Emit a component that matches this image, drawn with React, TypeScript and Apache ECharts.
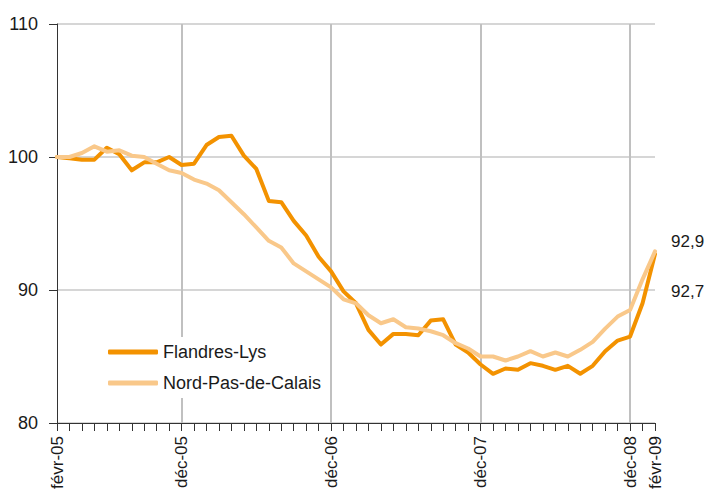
import React, { useEffect, useRef } from "react";
import * as echarts from "echarts";

const months = [
  "févr-05", "mars-05", "avr-05", "mai-05", "juin-05", "juil-05", "août-05", "sept-05", "oct-05", "nov-05", "déc-05",
  "janv-06", "févr-06", "mars-06", "avr-06", "mai-06", "juin-06", "juil-06", "août-06", "sept-06", "oct-06", "nov-06", "déc-06",
  "janv-07", "févr-07", "mars-07", "avr-07", "mai-07", "juin-07", "juil-07", "août-07", "sept-07", "oct-07", "nov-07", "déc-07",
  "janv-08", "févr-08", "mars-08", "avr-08", "mai-08", "juin-08", "juil-08", "août-08", "sept-08", "oct-08", "nov-08", "déc-08",
  "janv-09", "févr-09",
];

const shownLabels = ["févr-05", "déc-05", "déc-06", "déc-07", "déc-08", "févr-09"];
const gridMonths = ["déc-05", "déc-06", "déc-07", "déc-08"];

const flandresLys = [
  100.0, 99.9, 99.8, 99.8, 100.7, 100.2, 99.0, 99.6, 99.6, 100.0, 99.4,
  99.5, 100.9, 101.5, 101.6, 100.1, 99.1, 96.7, 96.6, 95.2, 94.1, 92.5, 91.4,
  89.9, 89.0, 87.0, 85.9, 86.7, 86.7, 86.6, 87.7, 87.8, 85.9, 85.3, 84.4,
  83.7, 84.1, 84.0, 84.5, 84.3, 84.0, 84.3, 83.7, 84.3, 85.4, 86.2, 86.5,
  89.0, 92.7,
];

const nordPasDeCalais = [
  100.0, 100.0, 100.3, 100.8, 100.4, 100.5, 100.1, 100.0, 99.5, 99.0, 98.8,
  98.3, 98.0, 97.5, 96.6, 95.7, 94.7, 93.7, 93.2, 92.0, 91.4, 90.8, 90.2,
  89.3, 89.0, 88.1, 87.5, 87.8, 87.2, 87.1, 86.9, 86.6, 86.0, 85.6, 85.0,
  85.0, 84.7, 85.0, 85.4, 85.0, 85.3, 85.0, 85.5, 86.1, 87.1, 88.0, 88.5,
  90.8, 92.9,
];

const FONT = "'Liberation Sans', Arial, sans-serif";

export default function App() {
  const ref = useRef<HTMLDivElement>(null);

  useEffect(() => {
    if (!ref.current) return;
    const chart = echarts.init(ref.current, undefined, { renderer: "svg" });
    const fmt = (v: number) => v.toFixed(1).replace(".", ",");
    chart.setOption({
      animation: false,
      textStyle: { fontFamily: FONT },
      grid: {
        left: 57,
        right: 51,
        top: 24,
        bottom: 69,
        containLabel: false,
        outerBoundsMode: "none",
      },
      legend: {
        orient: "vertical",
        left: 100,
        top: 337,
        padding: [6, 8, 6, 8],
        itemGap: 13,
        itemWidth: 50,
        itemHeight: 5,
        icon: "roundRect",
        backgroundColor: "#ffffff",
        textStyle: { fontSize: 18, color: "#1a1a1a", fontFamily: FONT },
        data: ["Flandres-Lys", "Nord-Pas-de-Calais"],
      },
      xAxis: {
        type: "category",
        data: months,
        boundaryGap: false,
        axisLine: { lineStyle: { color: "#333333", width: 1 } },
        axisTick: {
          show: true,
          interval: 0,
          length: 8,
          lineStyle: { color: "#333333", width: 1 },
        },
        axisLabel: {
          interval: (_i: number, v: string) => shownLabels.includes(v),
          rotate: 90,
          margin: 13,
          fontSize: 17,
          color: "#1a1a1a",
          fontFamily: FONT,
        },
        splitLine: {
          show: true,
          interval: (_i: number, v: string) => gridMonths.includes(v),
          lineStyle: { color: "#c0c0c0", width: 2 },
        },
      },
      yAxis: {
        type: "value",
        min: 80,
        max: 110,
        interval: 10,
        axisLine: { show: true, lineStyle: { color: "#333333", width: 1 } },
        axisTick: { show: true, length: 8, lineStyle: { color: "#333333" } },
        axisLabel: { margin: 19, fontSize: 18, color: "#1a1a1a", fontFamily: FONT },
        splitLine: { show: true, lineStyle: { color: "#c8c8c8", width: 1.5 } },
      },
      series: [
        {
          name: "Flandres-Lys",
          type: "line",
          data: flandresLys,
          showSymbol: false,
          symbol: "none",
          color: "#F39200",
          lineStyle: { color: "#F39200", width: 4, cap: "round", join: "round" },
          endLabel: {
            show: true,
            formatter: (p: any) => fmt(p.value),
            offset: [8, 37],
            fontSize: 17,
            color: "#1a1a1a",
            fontFamily: FONT,
          },
        },
        {
          name: "Nord-Pas-de-Calais",
          type: "line",
          data: nordPasDeCalais,
          showSymbol: false,
          symbol: "none",
          color: "#F9C88A",
          lineStyle: { color: "#F9C88A", width: 4, cap: "round", join: "round" },
          endLabel: {
            show: true,
            formatter: (p: any) => fmt(p.value),
            offset: [8, -10],
            fontSize: 17,
            color: "#1a1a1a",
            fontFamily: FONT,
          },
        },
      ],
    });
    return () => chart.dispose();
  }, []);

  return (
    <div
      ref={ref}
      style={{ position: "fixed", left: 0, top: 0, width: 706, height: 492, background: "#ffffff" }}
    />
  );
}
